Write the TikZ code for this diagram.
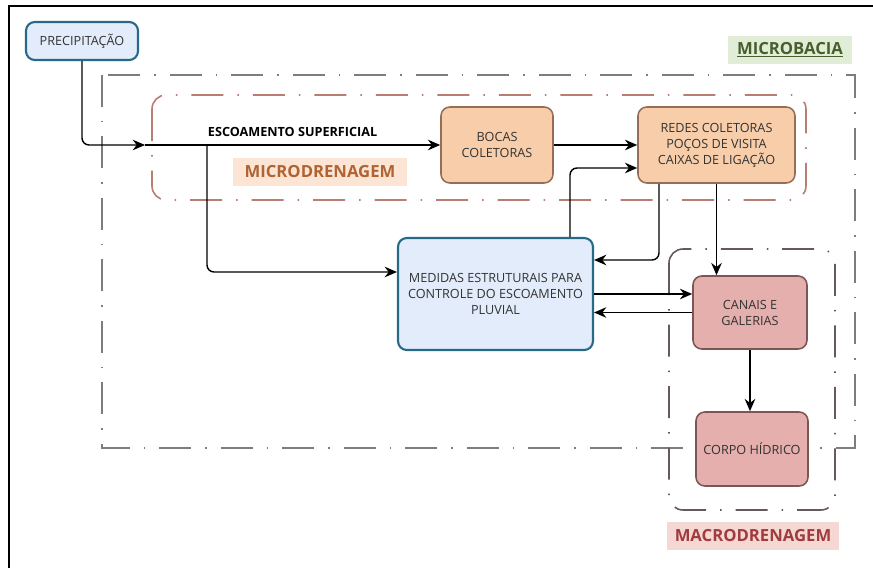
\documentclass[tikz,border=0pt]{standalone}
\usepackage{fontspec}
\setmainfont{Open Sans}
\usetikzlibrary{arrows.meta, positioning, calc}
\definecolor{precline}{RGB}{40,105,135}
\definecolor{precfill}{RGB}{226,236,250}
\definecolor{orgline}{RGB}{150,110,85}
\definecolor{orgfill}{RGB}{248,206,170}
\definecolor{redline}{RGB}{125,85,85}
\definecolor{redfill}{RGB}{228,175,172}
\definecolor{mbline}{RGB}{125,125,125}
\definecolor{mdline}{RGB}{185,125,115}
\definecolor{mcline}{RGB}{100,90,90}
\definecolor{mbfill}{RGB}{226,237,215}
\definecolor{mbtext}{RGB}{70,95,45}
\definecolor{mdfill}{RGB}{252,229,212}
\definecolor{mdtext}{RGB}{175,100,50}
\definecolor{mcfill}{RGB}{245,215,212}
\definecolor{mctext}{RGB}{160,60,60}

\begin{document}
\begin{tikzpicture}[x=0.02cm, y=-0.02cm,
    every node/.style={font=\fontsize{7.2}{9.1}\selectfont, align=center, text=black!80},
    blubox/.style={draw=precline, fill=precfill, line width=1.2pt, rounded corners=5pt, inner sep=0pt},
    orgbox/.style={draw=orgline, fill=orgfill, line width=0.9pt, rounded corners=5pt, inner sep=0pt},
    redbox/.style={draw=redline, fill=redfill, line width=0.9pt, rounded corners=5pt, inner sep=0pt},
    tag/.style={font=\fontsize{9.5}{11}\selectfont\bfseries, inner sep=0pt, minimum height=0.56cm},
    zone/.style={line width=0.9pt, dash pattern=on 0.64cm off 0.28cm on 0.03cm off 0.28cm},
    arr/.style={-{Stealth[length=7pt,width=6pt]}, line width=0.8pt}]
    \useasboundingbox (0,0) rectangle (873,568);
    \draw[line width=1.3pt] (9,568) |- (873,6);
    % zones
    \draw[zone, mbline] (102,75) rectangle (855,448);
    \draw[zone, mdline, rounded corners=8pt] (152,95) rectangle (806,200);
    \draw[zone, mcline, rounded corners=8pt] (669,249) rectangle (835,510);
    \node[tag, fill=mbfill, text=mbtext, minimum width=2.48cm] (mb) at (790,50) {\underline{MICROBACIA}};
    \node[tag, fill=mdfill, text=mdtext, minimum width=3.5cm] (md) at (320,172) {MICRODRENAGEM};
    \node[tag, fill=mcfill, text=mctext, minimum width=3.46cm] (mc) at (753,536) {MACRODRENAGEM};
    % boxes
    \node[blubox, minimum width=2.24cm, minimum height=0.76cm] (prec) at (82,41) {PRECIPITAÇÃO};
    \node[orgbox, minimum width=2.24cm, minimum height=1.52cm] (bocas) at (497,145) {BOCAS\\COLETORAS};
    \node[orgbox, minimum width=3.14cm, minimum height=1.52cm] (redes) at (716.5,145) {REDES COLETORAS\\POÇOS DE VISITA\\CAIXAS DE LIGAÇÃO};
    \node[blubox, minimum width=3.9cm, minimum height=2.24cm] (medidas) at (495.5,294) {MEDIDAS ESTRUTURAIS PARA\\CONTROLE DO ESCOAMENTO\\PLUVIAL};
    \node[redbox, minimum width=2.28cm, minimum height=1.46cm] (canais) at (750,312.5) {CANAIS E\\GALERIAS};
    \node[redbox, minimum width=2.24cm, minimum height=1.48cm] (corpo) at (752,449) {CORPO HÍDRICO};
    % flows
    \coordinate (es) at (145,145);
    \coordinate (br) at (207,145);
    \draw[arr, rounded corners=4pt] (prec.south) |- (es);
    \draw[arr] (es) -- node[above=1pt, font=\fontsize{7.2}{9}\selectfont\bfseries, text=black]{ESCOAMENTO SUPERFICIAL} (bocas.west);
    \draw[arr, rounded corners=4pt] (br) |- ([yshift=0.44cm]medidas.west);
    \draw[arr] (bocas.east) -- (redes.west);
    \draw[arr, rounded corners=4pt] ([xshift=1.49cm]medidas.north) |- ([yshift=-0.46cm]redes.west);
    \draw[arr, rounded corners=4pt] ([xshift=-1.15cm]redes.south) |- ([yshift=0.68cm]medidas.east);
    \draw[arr] (redes.south) -- (redes.south |- canais.north);
    \draw[arr] (medidas.east) -- (medidas.east -| canais.west);
    \draw[arr] (canais.west) -- (canais.west -| medidas.east);
    \draw[arr] (canais.south) -- (canais.south |- corpo.north);
\end{tikzpicture}
\end{document}
